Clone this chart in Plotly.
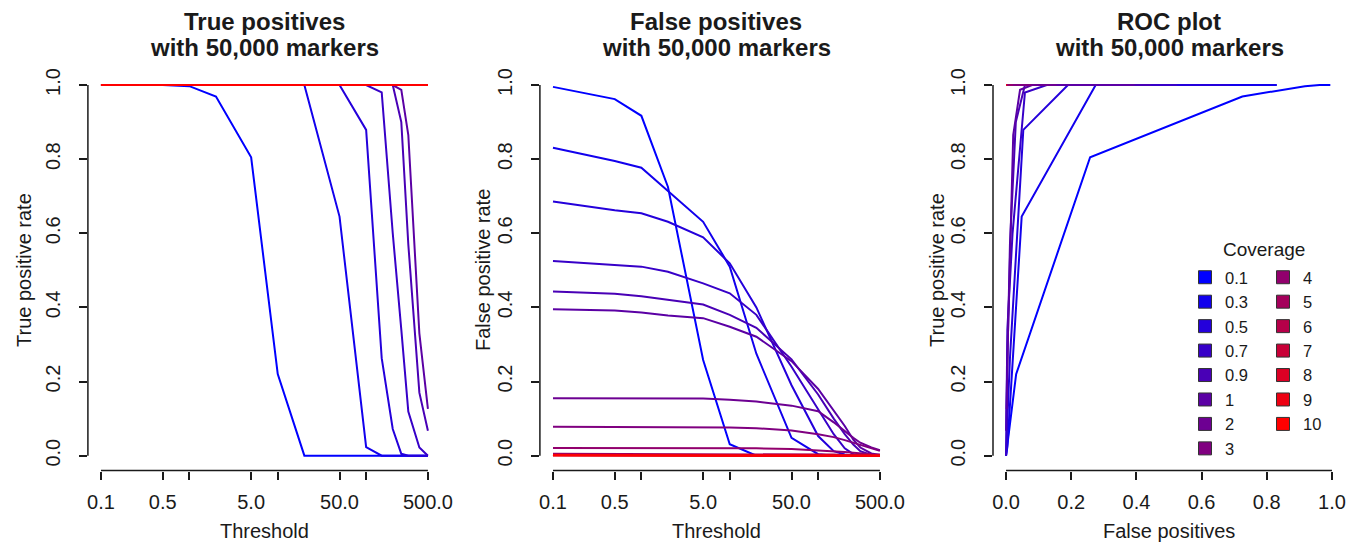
import math
import plotly.graph_objects as go

W, H = 1358, 543

# ---------------- data ----------------
thresholds = [0.1, 0.5, 1, 2, 5, 10, 20, 50, 100, 150, 200, 250, 300, 400, 500]
coverage_labels = ["0.1", "0.3", "0.5", "0.7", "0.9", "1", "2", "3", "4", "5", "6", "7", "8", "9", "10"]

# true positive rate per coverage, one value per threshold
tp_cov0_1 = [1.0, 1.0, 0.997, 0.969, 0.805, 0.22, 0.0, 0.0, 0.0, 0.0, 0.0, 0.0, 0.0, 0.0, 0.0]
tp_cov0_3 = [1.0, 1.0, 1.0, 1.0, 1.0, 1.0, 1.0, 0.645, 0.023, 0.0, 0.0, 0.0, 0.0, 0.0, 0.0]
tp_cov0_5 = [1.0, 1.0, 1.0, 1.0, 1.0, 1.0, 1.0, 1.0, 0.879, 0.263, 0.072, 0.005, 0.0, 0.0, 0.0]
tp_cov0_7 = [1.0, 1.0, 1.0, 1.0, 1.0, 1.0, 1.0, 1.0, 1.0, 0.98, 0.60, 0.34, 0.119, 0.022, 0.0]
tp_cov0_9 = [1.0, 1.0, 1.0, 1.0, 1.0, 1.0, 1.0, 1.0, 1.0, 1.0, 1.0, 0.90, 0.57, 0.17, 0.067]
tp_cov1 = [1.0, 1.0, 1.0, 1.0, 1.0, 1.0, 1.0, 1.0, 1.0, 1.0, 1.0, 0.987, 0.865, 0.33, 0.126]
tp_cov2 = [1.0, 1.0, 1.0, 1.0, 1.0, 1.0, 1.0, 1.0, 1.0, 1.0, 1.0, 1.0, 1.0, 1.0, 1.0]
tp_cov3 = [1.0, 1.0, 1.0, 1.0, 1.0, 1.0, 1.0, 1.0, 1.0, 1.0, 1.0, 1.0, 1.0, 1.0, 1.0]
tp_cov4 = [1.0, 1.0, 1.0, 1.0, 1.0, 1.0, 1.0, 1.0, 1.0, 1.0, 1.0, 1.0, 1.0, 1.0, 1.0]
tp_cov5 = [1.0, 1.0, 1.0, 1.0, 1.0, 1.0, 1.0, 1.0, 1.0, 1.0, 1.0, 1.0, 1.0, 1.0, 1.0]
tp_cov6 = [1.0, 1.0, 1.0, 1.0, 1.0, 1.0, 1.0, 1.0, 1.0, 1.0, 1.0, 1.0, 1.0, 1.0, 1.0]
tp_cov7 = [1.0, 1.0, 1.0, 1.0, 1.0, 1.0, 1.0, 1.0, 1.0, 1.0, 1.0, 1.0, 1.0, 1.0, 1.0]
tp_cov8 = [1.0, 1.0, 1.0, 1.0, 1.0, 1.0, 1.0, 1.0, 1.0, 1.0, 1.0, 1.0, 1.0, 1.0, 1.0]
tp_cov9 = [1.0, 1.0, 1.0, 1.0, 1.0, 1.0, 1.0, 1.0, 1.0, 1.0, 1.0, 1.0, 1.0, 1.0, 1.0]
tp_cov10 = [1.0, 1.0, 1.0, 1.0, 1.0, 1.0, 1.0, 1.0, 1.0, 1.0, 1.0, 1.0, 1.0, 1.0, 1.0]

# false positive rate per coverage, one value per threshold
fp_cov0_1 = [0.995, 0.962, 0.917, 0.725, 0.258, 0.031, 0.0, 0.0, 0.0, 0.0, 0.0, 0.0, 0.0, 0.0, 0.0]
fp_cov0_3 = [0.831, 0.795, 0.777, 0.715, 0.631, 0.51, 0.275, 0.048, 0.004, 0.0, 0.0, 0.0, 0.0, 0.0, 0.0]
fp_cov0_5 = [0.686, 0.662, 0.654, 0.631, 0.589, 0.519, 0.40, 0.19, 0.053, 0.012, 0.003, 0.0, 0.0, 0.0, 0.0]
fp_cov0_7 = [0.525, 0.515, 0.51, 0.496, 0.465, 0.438, 0.38, 0.24, 0.125, 0.058, 0.02, 0.004, 0.0, 0.0, 0.0]
fp_cov0_9 = [0.443, 0.437, 0.43, 0.42, 0.408, 0.38, 0.345, 0.26, 0.165, 0.10, 0.058, 0.03, 0.012, 0.002, 0.0]
fp_cov1 = [0.395, 0.392, 0.386, 0.378, 0.371, 0.348, 0.321, 0.255, 0.18, 0.12, 0.08, 0.043, 0.022, 0.006, 0.002]
fp_cov2 = [0.155, 0.155, 0.155, 0.155, 0.154, 0.151, 0.146, 0.135, 0.12, 0.09, 0.065, 0.048, 0.035, 0.022, 0.015]
fp_cov3 = [0.078, 0.078, 0.078, 0.078, 0.077, 0.076, 0.074, 0.068, 0.058, 0.05, 0.042, 0.035, 0.028, 0.02, 0.013]
fp_cov4 = [0.021, 0.021, 0.021, 0.021, 0.021, 0.02, 0.02, 0.018, 0.015, 0.012, 0.01, 0.008, 0.006, 0.004, 0.003]
fp_cov5 = [0.005, 0.005, 0.005, 0.005, 0.005, 0.005, 0.005, 0.004, 0.004, 0.003, 0.002, 0.002, 0.001, 0.001, 0.001]
fp_cov6 = [0.002, 0.002, 0.002, 0.002, 0.002, 0.002, 0.002, 0.002, 0.001, 0.001, 0.001, 0.0, 0.0, 0.0, 0.0]
fp_cov7 = [0.001, 0.001, 0.001, 0.001, 0.001, 0.001, 0.001, 0.001, 0.0, 0.0, 0.0, 0.0, 0.0, 0.0, 0.0]
fp_cov8 = [0.001, 0.001, 0.001, 0.001, 0.001, 0.0, 0.0, 0.0, 0.0, 0.0, 0.0, 0.0, 0.0, 0.0, 0.0]
fp_cov9 = [0.001, 0.001, 0.0, 0.0, 0.0, 0.0, 0.0, 0.0, 0.0, 0.0, 0.0, 0.0, 0.0, 0.0, 0.0]
fp_cov10 = [0.001, 0.0, 0.0, 0.0, 0.0, 0.0, 0.0, 0.0, 0.0, 0.0, 0.0, 0.0, 0.0, 0.0, 0.0]

threshold_tickvals = [0.1, 0.5, 1, 5, 10, 50, 100, 500]
threshold_ticktext = ["0.1", "0.5", "", "5.0", "", "50.0", "", "500.0"]
rate_tickvals = [0.0, 0.2, 0.4, 0.6, 0.8, 1.0]
rate_ticktext = ["0.0", "0.2", "0.4", "0.6", "0.8", "1.0"]

tp_series = [tp_cov0_1, tp_cov0_3, tp_cov0_5, tp_cov0_7, tp_cov0_9, tp_cov1, tp_cov2,
             tp_cov3, tp_cov4, tp_cov5, tp_cov6, tp_cov7, tp_cov8, tp_cov9, tp_cov10]
fp_series = [fp_cov0_1, fp_cov0_3, fp_cov0_5, fp_cov0_7, fp_cov0_9, fp_cov1, fp_cov2,
             fp_cov3, fp_cov4, fp_cov5, fp_cov6, fp_cov7, fp_cov8, fp_cov9, fp_cov10]

# ---------------- style ----------------
n = len(coverage_labels)
colors = [f"rgb({round(255 * i / (n - 1))},0,{round(255 * (1 - i / (n - 1)))})" for i in range(n)]
FONT = "Liberation Sans, Arial, Helvetica, sans-serif"
INK = "#1a1a1a"
LW = 2

# panel geometry in pixels (plot region incl. 4% padding, like R)
panels = {
    1: (87.9, 441.0),
    2: (539.9, 893.0),
    3: (993.0, 1345.0),
}
top_px, bot_px = 70.2, 470.5
ydom = [1 - bot_px / H, 1 - top_px / H]

fig = go.Figure()

for i in range(n):
    fig.add_trace(go.Scatter(x=thresholds, y=tp_series[i], mode="lines",
                             line=dict(color=colors[i], width=LW),
                             xaxis="x", yaxis="y", showlegend=False,
                             name=coverage_labels[i]))
for i in range(n):
    fig.add_trace(go.Scatter(x=thresholds, y=fp_series[i], mode="lines",
                             line=dict(color=colors[i], width=LW),
                             xaxis="x2", yaxis="y2", showlegend=False,
                             name=coverage_labels[i]))
for i in range(n):
    fig.add_trace(go.Scatter(x=fp_series[i], y=tp_series[i], mode="lines",
                             line=dict(color=colors[i], width=LW),
                             xaxis="x3", yaxis="y3", showlegend=False,
                             name=coverage_labels[i]))

# legend entries (square swatches), split in two columns
for i in range(n):
    fig.add_trace(go.Scatter(x=[None], y=[None], mode="markers",
                             marker=dict(symbol="square", size=13, color=colors[i],
                                         line=dict(color="#333333", width=1)),
                             name=coverage_labels[i], xaxis="x3", yaxis="y3",
                             showlegend=True,
                             legend="legend" if i < 8 else "legend2"))

lo, hi = math.log10(0.1), math.log10(500)
pad = 0.04 * (hi - lo)

common_x = dict(showline=False, showgrid=False, zeroline=False, ticks="outside",
                ticklen=8, tickwidth=1.5, tickcolor=INK,
                tickfont=dict(family=FONT, size=20, color=INK),
                ticklabelstandoff=5, fixedrange=True)
common_y = dict(showline=False, showgrid=False, zeroline=False, ticks="outside",
                ticklen=8, tickwidth=1.5, tickcolor=INK,
                tickfont=dict(family=FONT, size=20, color=INK),
                range=[-0.04, 1.04], tickmode="array", tickvals=rate_tickvals,
                ticktext=rate_ticktext, tickangle=-90, domain=ydom,
                ticklabelstandoff=11, fixedrange=True)

LEG_FS = 16.5
LEG_TOP = 260
layout = dict(
    width=W, height=H, margin=dict(l=0, r=0, t=0, b=0),
    paper_bgcolor="white", plot_bgcolor="white", template="none",
    font=dict(family=FONT, color=INK),
    xaxis=dict(common_x, type="log", range=[lo - pad, hi + pad], tickmode="array",
               tickvals=threshold_tickvals, ticktext=threshold_ticktext,
               domain=[panels[1][0] / W, panels[1][1] / W], anchor="y"),
    yaxis=dict(common_y, anchor="x"),
    xaxis2=dict(common_x, type="log", range=[lo - pad, hi + pad], tickmode="array",
                tickvals=threshold_tickvals, ticktext=threshold_ticktext,
                domain=[panels[2][0] / W, panels[2][1] / W], anchor="y2"),
    yaxis2=dict(common_y, anchor="x2"),
    xaxis3=dict(common_x, range=[-0.04, 1.04], tickmode="array",
                tickvals=rate_tickvals, ticktext=rate_ticktext,
                domain=[panels[3][0] / W, panels[3][1] / W], anchor="y3"),
    yaxis3=dict(common_y, anchor="x3"),
    legend=dict(x=1185 / W, y=1 - LEG_TOP / H, xanchor="left", yanchor="top",
                font=dict(family=FONT, size=LEG_FS, color=INK), bgcolor="rgba(0,0,0,0)",
                itemwidth=30, tracegroupgap=0, itemclick=False, itemdoubleclick=False),
    legend2=dict(x=1263 / W, y=1 - LEG_TOP / H, xanchor="left", yanchor="top",
                 font=dict(family=FONT, size=LEG_FS, color=INK), bgcolor="rgba(0,0,0,0)",
                 itemwidth=30, tracegroupgap=0, itemclick=False, itemdoubleclick=False),
)
fig.update_layout(**layout)

# R-style detached axis lines spanning only the tick range
shapes = []
for k, (xa, ya) in {1: ("x", "y"), 2: ("x2", "y2"), 3: ("x3", "y3")}.items():
    left = panels[k][0] / W
    shapes.append(dict(type="line", xref="paper", yref=ya, x0=left, x1=left, y0=0, y1=1,
                       line=dict(color=INK, width=1.5)))
    if k < 3:
        x0, x1 = thresholds[0], thresholds[-1]
    else:
        x0, x1 = 0, 1
    shapes.append(dict(type="line", xref=xa, yref="paper", x0=x0, x1=x1, y0=ydom[0], y1=ydom[0],
                       line=dict(color=INK, width=1.5)))
fig.update_layout(shapes=shapes)

# titles and axis titles
titles = {1: ("True positives", "Threshold", "True positive rate", 24),
          2: ("False positives", "Threshold", "False positive rate", 483),
          3: ("ROC plot", "False positives", "True positive rate", 937)}
ann = []
for k, (t1, xt, yt, ytx) in titles.items():
    cx = (panels[k][0] + panels[k][1]) / 2 / W
    ann.append(dict(text=f"<b>{t1}</b>", x=cx, y=1 - 21 / H, xref="paper", yref="paper",
                    showarrow=False, xanchor="center", yanchor="middle",
                    font=dict(family=FONT, size=24, color=INK)))
    ann.append(dict(text="<b>with 50,000 markers</b>", x=cx, y=1 - 47 / H, xref="paper",
                    yref="paper", showarrow=False, xanchor="center", yanchor="middle",
                    font=dict(family=FONT, size=24, color=INK)))
    ann.append(dict(text=xt, x=cx, y=1 - 531 / H, xref="paper", yref="paper",
                    showarrow=False, xanchor="center", yanchor="middle",
                    font=dict(family=FONT, size=20, color=INK)))
    ann.append(dict(text=yt, x=ytx / W, y=1 - 270 / H, xref="paper", yref="paper",
                    showarrow=False, xanchor="center", yanchor="middle", textangle=-90,
                    font=dict(family=FONT, size=20, color=INK)))
ann.append(dict(text="Coverage", x=1264 / W, y=1 - 249 / H, xref="paper", yref="paper",
                showarrow=False, xanchor="center", yanchor="middle",
                font=dict(family=FONT, size=19, color=INK)))
fig.update_layout(annotations=ann)

fig.write_html("out.html")
